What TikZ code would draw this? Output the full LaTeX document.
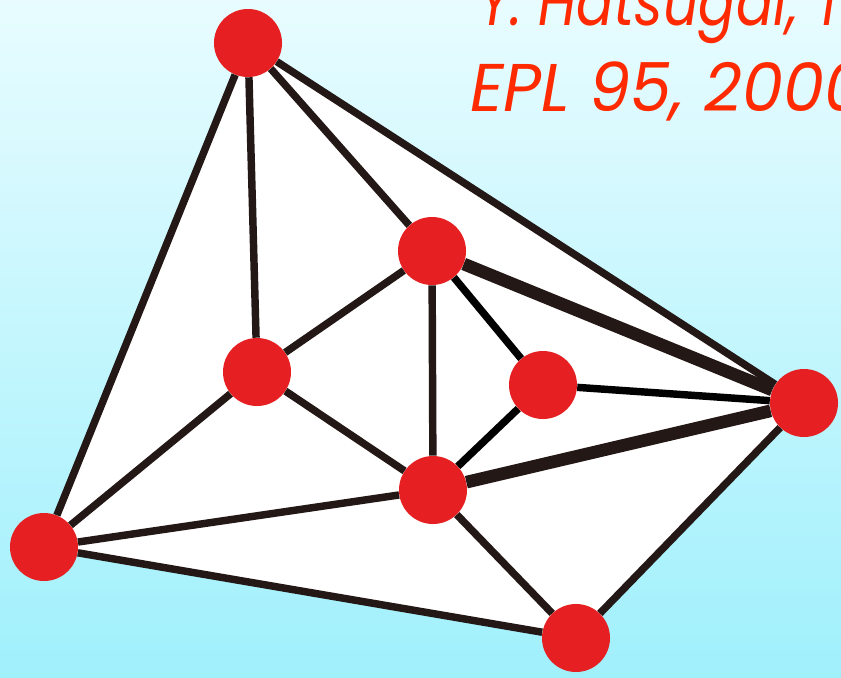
\documentclass[tikz,border=0pt]{standalone}
\usepackage{fontspec}
\setmainfont{Poppins}
\newfontfamily\authorfont[FakeStretch=0.82]{Poppins}
\newfontfamily\journalfont[FakeStretch=0.97]{Poppins}
\usetikzlibrary{backgrounds}
\definecolor{dotred}{RGB}{230,32,34}
\definecolor{bondbrown}{RGB}{35,24,21}
\definecolor{citered}{RGB}{255,42,0}
\definecolor{skytop}{RGB}{232,252,255}
\definecolor{skybottom}{RGB}{160,240,252}

\begin{document}
\begin{tikzpicture}[x=0.025cm,y=-0.025cm,
    site/.style={circle,fill=dotred,minimum size=1.7cm,inner sep=0pt},
    bond/.style={draw=bondbrown,line width=5.3pt},
    heavybond/.style={draw=bondbrown,line width=9pt},
    innerbond/.style={draw=black,line width=5.3pt},
    cite/.style={anchor=base west,inner sep=0pt,text=citered}]
    \useasboundingbox (0,0) rectangle (841,677);
    \clip (0,0) rectangle (841,677);
    \node[site] (apex) at (248,43) {};
    \node[site] (upper) at (432,251) {};
    \node[site] (west) at (257,372) {};
    \node[site] (inner) at (543,385) {};
    \node[site] (east) at (804,403) {};
    \node[site] (hub) at (433,490) {};
    \node[site] (far) at (44,547) {};
    \node[site] (foot) at (576,638) {};
    \begin{scope}[on background layer]
        \shade[top color=skytop,bottom color=skybottom] (0,0) rectangle (841,677);
        \fill[white] (apex.center) -- (east.center) -- (foot.center) -- (far.center) -- cycle;
    \end{scope}
    \draw[bond] (apex) -- (far);
    \draw[bond] (apex) -- (west);
    \draw[bond] (apex) -- (upper);
    \draw[bond] (apex) -- (east);
    \draw[bond] (upper) -- (west);
    \draw[bond] (upper) -- (hub);
    \draw[heavybond] (upper) -- (east);
    \draw[innerbond] (upper) -- (inner);
    \draw[innerbond] (inner) -- (east);
    \draw[innerbond] (inner) -- (hub);
    \draw[bond] (west) -- (far);
    \draw[bond] (west) -- (hub);
    \draw[bond] (hub) -- (far);
    \draw[heavybond] (hub) -- (east);
    \draw[bond] (hub) -- (foot);
    \draw[bond] (far) -- (foot);
    \draw[bond] (foot) -- (east);
    \node[cite,font=\authorfont\fontsize{48}{54}\selectfont\itshape] (authors) at (478,25) {Y. Hatsugai, T};
    \node[cite,font=\journalfont\fontsize{48}{54}\selectfont\itshape] (journal) at (470,111) {EPL 95, 2000};
\end{tikzpicture}
\end{document}
